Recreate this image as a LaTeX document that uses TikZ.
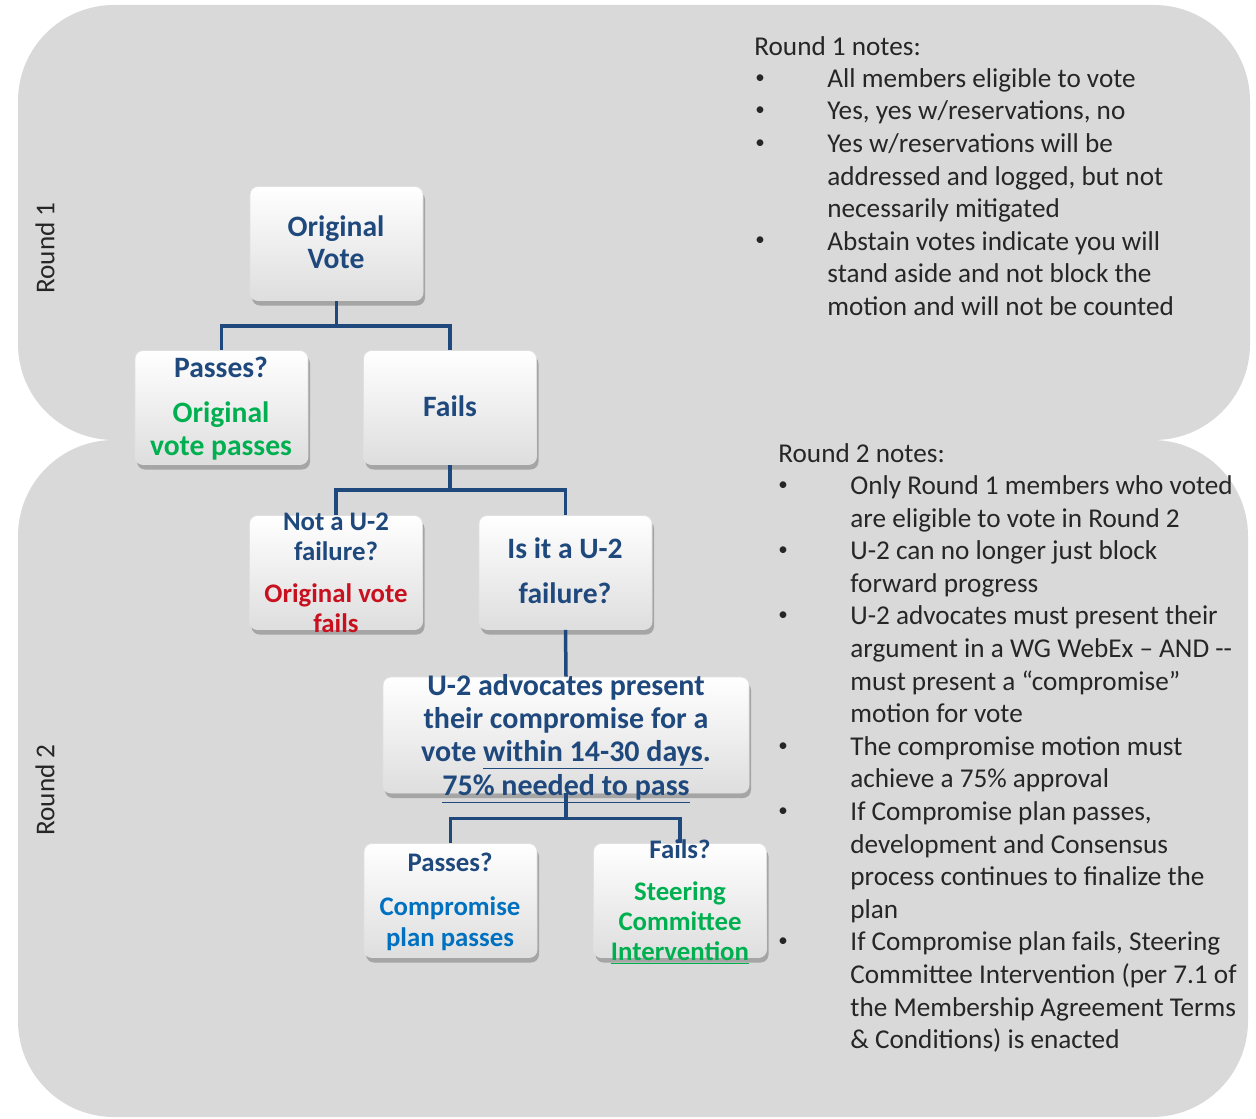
\documentclass[tikz,border=0pt]{standalone}
\usepackage{fontspec}
\setmainfont{Carlito}
\usetikzlibrary{shadows}
\definecolor{navy}{RGB}{31,73,125}
\definecolor{okgreen}{RGB}{0,176,80}
\definecolor{badred}{RGB}{200,16,30}
\definecolor{midblue}{RGB}{0,112,192}
\definecolor{bggray}{RGB}{217,217,217}
\definecolor{txt}{RGB}{38,38,38}
\tikzset{
  vbox/.style={draw=black!12, line width=0.4pt, rounded corners=4pt,
    top color=white, bottom color=black!13, inner sep=0pt,
    minimum width=86.5pt, minimum height=57pt,
    drop shadow={shadow xshift=1pt, shadow yshift=-2.5pt, opacity=0.45, fill=black!60}},
  conn/.style={draw=navy, line width=1.75pt},
  bt/.style={anchor=base, inner sep=0pt, text=navy, font=\bfseries\fontsize{14.8}{16}\selectfont},
  bts/.style={bt, font=\bfseries\fontsize{13.4}{15}\selectfont},
  note/.style={anchor=base west, inner sep=0pt, text=txt, font=\fontsize{13.6}{16}\selectfont},
  bul/.style={anchor=center, inner sep=0pt, text=txt, font=\fontsize{9.5}{10}\selectfont},
  side/.style={inner sep=0pt, text=txt, rotate=90, font=\fontsize{13.6}{16}\selectfont},
}
\begin{document}
\begin{tikzpicture}[x=0.5pt,y=-0.5pt]
\useasboundingbox (0,0) rectangle (1256,1118);
% backgrounds
\fill[bggray, rounded corners=48pt] (18,5) rectangle (1250,440);
\fill[bggray, rounded corners=48pt] (18,440) rectangle (1248,1117);
\node[side] (r1) at (45,248) {Round 1};
\node[side] (r2) at (45,790) {Round 2};

% box centres
\coordinate (ovc) at (336.5,243.5);
\coordinate (p1c) at (221.5,407.5);
\coordinate (f1c) at (450,407.5);
\coordinate (n2c) at (336,572.5);
\coordinate (i2c) at (565.5,572.5);
\coordinate (adc) at (566,735);
\coordinate (p2c) at (450.5,900.5);
\coordinate (f2c) at (680,900.5);

\path (ovc) node[vbox] (ov) {};
\path (p1c) node[vbox] (pass1) {};
\path (f1c) node[vbox] (fail1) {};
\path (n2c) node[vbox] (notu) {};
\path (i2c) node[vbox] (isu) {};
\path (adc) node[vbox, minimum width=183pt, minimum height=58pt] (adv) {};
\path (p2c) node[vbox] (pass2) {};
\path (f2c) node[vbox] (fail2) {};

% connectors
\draw[conn] (ov.south) -- ++(0,25) coordinate (j1) -| (pass1.north);
\draw[conn] (j1) -| (fail1.north);
\draw[conn] (fail1.south) -- ++(0,25) coordinate (j2) -| (notu.north);
\draw[conn] (j2) -| (isu.north);
\draw[conn] (isu.south) -- (adv.north);
\draw[conn] (adv.south) -- ++(0,25) coordinate (j3) -| (pass2.north);
\draw[conn] (j3) -| (fail2.north);

% box texts
\node[bt] (ovt1) at (336,236) {Original};
\node[bt] (ovt2) at (336,268) {Vote};

\node[bt] (p1t1) at (221,377) {Passes?};
\node[bt, text=okgreen] (p1t2) at (221,422) {Original};
\node[bt, text=okgreen] (p1t3) at (221,455) {vote passes};

\node[bt] (f1t1) at (450,416) {Fails};

\node[bts] (nt1) at (336,530) {Not a U-2};
\node[bts] (nt2) at (336,560) {failure?};
\node[bts, text=badred] (nt3) at (336,602) {Original vote};
\node[bts, text=badred] (nt4) at (336,632) {fails};

\node[bt] (it1) at (565,558) {Is it a U-2};
\node[bt] (it2) at (565,603) {failure?};

\node[bt, font=\bfseries\fontsize{15}{16}\selectfont] (at1) at (566,695) {U-2 advocates present};
\node[bt, font=\bfseries\fontsize{15}{16}\selectfont] (at2) at (566,728) {their compromise for a};
\node[bt, font=\bfseries\fontsize{15}{16}\selectfont] (at3) at (566,761) {vote \underline{within 14-30 days}.};
\node[bt, font=\bfseries\fontsize{15}{16}\selectfont] (at4) at (566,795) {\underline{75\% needed to pass}};

\node[bts] (pt1) at (450,871) {Passes?};
\node[bts, text=midblue] (pt2) at (450,915) {Compromise};
\node[bts, text=midblue] (pt3) at (450,946) {plan passes};

\node[bts] (ft1) at (680,858) {Fails?};
\node[bts, text=okgreen] (ft2) at (680,900) {Steering};
\node[bts, text=okgreen] (ft3) at (680,930) {Committee};
\node[bts, text=okgreen] (ft4) at (680,960) {\underline{Intervention}};

% Round 1 notes
\node[note] (n1h) at (754,55.5) {Round 1 notes:};
\foreach \t [count=\i from 0] in {All members eligible to vote,{Yes, yes w/reservations, no},Yes w/reservations will be,{addressed and logged, but not},necessarily mitigated,Abstain votes indicate you will,stand aside and not block the,motion and will not be counted}
  \node[note] (ra\i) at (827,{87.5+32.5*\i}) {\t};
\foreach \i in {0,1,2,5}
  \node[bul] (rab\i) at (760,{79+32.5*\i}) {•};

% Round 2 notes
\node[note] (n2h) at (778,462) {Round 2 notes:};
\foreach \t [count=\i from 0] in {Only Round 1 members who voted,are eligible to vote in Round 2,U-2 can no longer just block,forward progress,U-2 advocates must present their,argument in a WG WebEx – AND -{}-,must present a “compromise”,motion for vote,The compromise motion must,achieve a 75\% approval,{If Compromise plan passes,},development and Consensus,process continues to finalize the,plan,{If Compromise plan fails, Steering},Committee Intervention (per 7.1 of,the Membership Agreement Terms,\& Conditions) is enacted}
  \node[note] (rb\i) at (850,{494.5+32.6*\i}) {\t};
\foreach \i in {0,2,4,8,10,14}
  \node[bul] (rbb\i) at (783,{486+32.6*\i}) {•};
\end{tikzpicture}
\end{document}
